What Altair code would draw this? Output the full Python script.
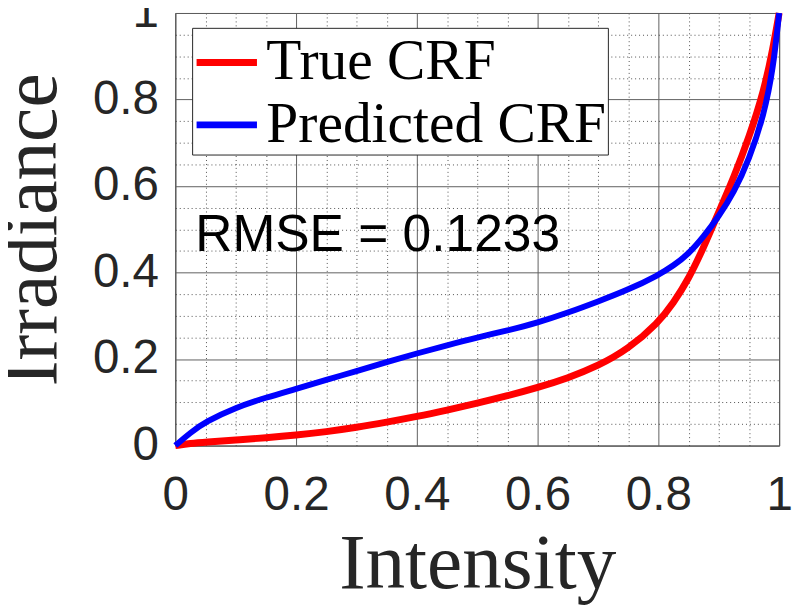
import altair as alt
import pandas as pd

# ---- data ----
intensity = [0, 0.025, 0.05, 0.1, 0.15, 0.2, 0.25, 0.3, 0.35, 0.4, 0.45, 0.5, 0.55,
             0.6, 0.65, 0.7, 0.75, 0.8, 0.825, 0.85, 0.875, 0.9, 0.925, 0.95, 0.975, 0.99, 1.0]
true_crf = [0, 0.005, 0.008, 0.013, 0.018, 0.024, 0.032, 0.042, 0.054, 0.067, 0.082, 0.098, 0.115,
            0.134, 0.156, 0.184, 0.223, 0.284, 0.33, 0.385, 0.458, 0.54, 0.62, 0.712, 0.82, 0.92, 1.0]
pred_crf = [0, 0.03, 0.055, 0.088, 0.111, 0.131, 0.152, 0.172, 0.193, 0.213, 0.232, 0.25, 0.266,
            0.284, 0.307, 0.333, 0.36, 0.394, 0.416, 0.443, 0.483, 0.53, 0.585, 0.66, 0.765, 0.87, 1.0]

series_names = ["True CRF", "Predicted CRF"]
series_colors = ["#ff0000", "#0000ff"]

major_ticks = [0, 0.2, 0.4, 0.6, 0.8, 1]
minor_ticks = [0.05, 0.1, 0.15, 0.25, 0.3, 0.35, 0.45, 0.5, 0.55,
               0.65, 0.7, 0.75, 0.85, 0.9, 0.95]

rmse_text = ["RMSE = 0.1233"]
rmse_x = [0.033]
rmse_y = [0.45]

df_true = pd.DataFrame({"Intensity": intensity, "Irradiance": true_crf, "series": series_names[0]})
df_pred = pd.DataFrame({"Intensity": intensity, "Irradiance": pred_crf, "series": series_names[1]})
df_text = pd.DataFrame({"x": rmse_x, "y": rmse_y, "label": rmse_text})

xscale = alt.Scale(domain=[0, 1], nice=False, zero=False)
yscale = alt.Scale(domain=[0, 1], nice=False, zero=False)

dark = "#262626"

legend = alt.Legend(
    title=None, orient="none", legendX=17, legendY=15,
    fillColor="white", strokeColor=dark, padding=1,
    labelFont="Liberation Serif", labelFontSize=58, labelColor="black", labelLimit=600,
    symbolType="stroke", symbolSize=3721, symbolStrokeWidth=7,
    labelOffset=6, rowPadding=0,
)
color = alt.Color("series:N", scale=alt.Scale(domain=series_names, range=series_colors), legend=legend)

minor_layer = alt.Chart(df_true).mark_line(opacity=0).encode(
    x=alt.X("Intensity:Q", scale=xscale,
            axis=alt.Axis(orient="bottom", values=minor_ticks, grid=True, gridDash=[1, 3],
                          gridColor="#333333", gridOpacity=0.85, gridWidth=1,
                          labels=False, ticks=False, domain=False, title=None)),
    y=alt.Y("Irradiance:Q", scale=yscale,
            axis=alt.Axis(orient="left", values=minor_ticks, grid=True, gridDash=[1, 3],
                          gridColor="#333333", gridOpacity=0.85, gridWidth=1,
                          labels=False, ticks=False, domain=False, title=None)),
)

x_axis = alt.Axis(orient="bottom", values=major_ticks, format="~g", grid=True,
                  gridColor="#5f5f5f", gridOpacity=1, gridWidth=1,
                  ticks=False, domain=False, labelFlush=False, labelOverlap=False,
                  labelFont="Liberation Sans", labelFontSize=48, labelColor=dark,
                  labelPadding=27, labelBaseline="top",
                  title="Intensity", titleFont="Liberation Serif", titleFontSize=80,
                  titleFontWeight="normal", titleColor=dark,
                  titleBaseline="alphabetic", titleY=143, titleX=305)
y_axis = alt.Axis(orient="left", values=major_ticks, format="~g", grid=True,
                  gridColor="#5f5f5f", gridOpacity=1, gridWidth=1,
                  ticks=False, domain=False, labelFlush=False, labelOverlap=False,
                  labelFont="Liberation Sans", labelFontSize=48, labelColor=dark,
                  labelPadding=17,
                  title="Irradiance", titleFont="Liberation Serif", titleFontSize=78,
                  titleFontWeight="normal", titleColor=dark, titleAngle=270,
                  titleBaseline="alphabetic", titleX=-121, titleY=218.5, titleAlign="center")

red_layer = alt.Chart(df_true).mark_line(strokeWidth=7, interpolate="basis").encode(
    x=alt.X("Intensity:Q", scale=xscale, axis=x_axis),
    y=alt.Y("Irradiance:Q", scale=yscale, axis=y_axis),
    color=color,
)

blue_layer = alt.Chart(df_pred).mark_line(strokeWidth=6, interpolate="basis").encode(
    x=alt.X("Intensity:Q", scale=xscale, axis=None),
    y=alt.Y("Irradiance:Q", scale=yscale, axis=None),
    color=color,
)

text_layer = alt.Chart(df_text).mark_text(
    align="left", baseline="alphabetic", font="Liberation Sans", fontSize=52, color="black"
).encode(
    x=alt.X("x:Q", scale=xscale, axis=None),
    y=alt.Y("y:Q", scale=yscale, axis=None),
    text="label:N",
)

chart = alt.layer(minor_layer, red_layer, blue_layer, text_layer).resolve_axis(
    x="independent", y="independent"
).properties(
    width=610, height=437,
    padding={"left": 169, "top": 2, "right": 14, "bottom": 158},
    autosize=alt.AutoSizeParams(type="none"),
).configure_view(stroke=dark, strokeWidth=1)

chart.save("out.html", embed_options={"renderer": "svg", "actions": False})
